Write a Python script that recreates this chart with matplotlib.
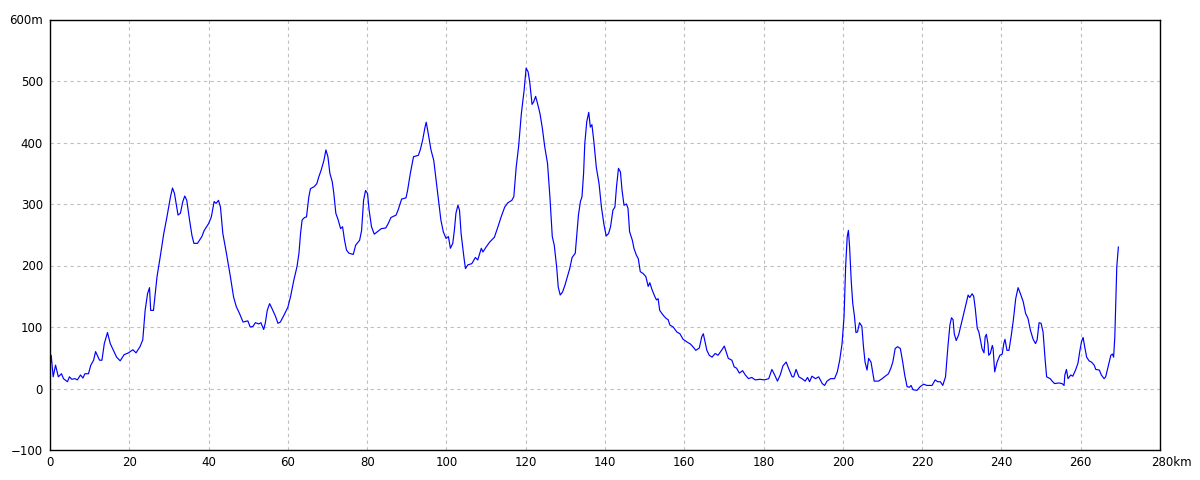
import matplotlib
matplotlib.use("Agg")
import matplotlib.pyplot as plt
import matplotlib.transforms as mtransforms

# distance (km) and elevation (m)
km = [0.0, 0.3, 0.8, 1.4, 2.1, 2.9, 3.4, 4.4, 4.9, 5.5, 6.3, 6.9, 7.7, 8.3, 8.8, 9.7,
      10.3, 11.0, 11.5, 12.5, 13.1, 13.7, 14.5, 15.2, 16.0, 16.8, 17.7, 18.7, 19.8,
      20.9, 21.7, 22.7, 23.4, 24.0, 24.6, 25.1, 25.4, 26.1, 27.0, 27.8, 28.7, 29.5,
      30.4, 30.9, 31.4, 32.3, 32.9, 33.5, 34.0, 34.5, 35.2, 35.8, 36.3, 37.2, 38.3,
      38.9, 40.0, 40.7, 41.4, 41.9, 42.5, 43.0, 43.6, 44.5, 45.5, 46.3, 47.0, 47.8,
      48.7, 49.9, 50.5, 51.2, 51.8, 52.7, 53.2, 53.9, 54.3, 54.8, 55.4, 56.0, 56.9,
      57.5, 58.1, 59.0, 60.0, 60.7, 61.5, 62.3, 62.8, 63.2, 63.6, 64.2, 64.7, 65.3,
      65.7, 66.6, 67.3, 67.8, 68.4, 69.1, 69.6, 70.1, 70.6, 71.2, 71.6, 72.1, 72.7,
      73.3, 73.8, 74.3, 74.8, 75.4, 76.5, 77.1, 78.1, 78.6, 79.1, 79.6, 80.1, 80.5,
      81.1, 81.8, 82.6, 83.6, 84.7, 85.3, 86.0, 87.3, 87.8, 88.7, 89.8, 90.2, 90.9,
      91.7, 92.9, 93.4, 94.0, 94.6, 94.9, 95.4, 96.1, 96.8, 97.4, 98.0, 98.6, 99.2,
      99.9, 100.5, 101.0, 101.6, 102.0, 102.4, 102.9, 103.3, 103.7, 104.4, 104.8,
      105.4, 106.4, 107.3, 107.9, 108.8, 109.2, 110.0, 110.9, 112.1, 113.0, 113.8,
      114.7, 115.5, 116.5, 117.0, 117.6, 118.2, 118.9, 119.6, 120.1, 120.6, 121.0,
      121.6, 122.0, 122.5, 123.0, 123.6, 124.2, 124.8, 125.5, 126.1, 126.7, 127.2,
      127.8, 128.2, 128.7, 129.3, 129.9, 130.6, 131.1, 131.7, 132.5, 132.9, 133.3,
      133.8, 134.2, 134.6, 134.9, 135.4, 135.9, 136.3, 136.7, 137.2, 137.8, 138.5,
      139.1, 139.7, 140.3, 140.9, 141.4, 142.0, 142.5, 142.9, 143.4, 143.9, 144.3,
      144.8, 145.4, 145.8, 146.2, 146.9, 147.3, 147.9, 148.4, 148.9, 149.6, 150.3,
      150.9, 151.3, 151.9, 152.6, 153.0, 153.4, 153.8, 154.7, 155.4, 155.9, 156.4,
      157.2, 158.1, 158.9, 159.7, 160.6, 161.6, 162.3, 162.9, 163.8, 164.4, 164.8,
      165.7, 166.3, 167.0, 167.8, 168.5, 169.4, 170.1, 170.7, 171.1, 172.0, 172.6,
      173.2, 173.9, 174.7, 175.4, 176.2, 177.0, 177.9, 179.1, 180.2, 181.3, 182.1,
      182.8, 183.5, 184.2, 184.9, 185.7, 186.3, 187.2, 187.6, 188.2, 188.9, 189.7,
      190.5, 191.1, 191.6, 192.2, 193.1, 193.9, 194.8, 195.4, 196.0, 196.9, 197.9,
      198.6, 199.2, 199.8, 200.3, 200.7, 201.1, 201.4, 201.7, 202.1, 202.5, 202.9,
      203.3, 203.7, 204.2, 204.8, 205.2, 205.6, 206.1, 206.5, 207.1, 207.5, 207.9,
      209.0, 209.9, 210.7, 211.5, 212.1, 212.6, 213.2, 213.8, 214.5, 215.1, 215.6,
      216.2, 216.8, 217.2, 217.7, 218.7, 219.5, 220.4, 221.2, 222.5, 223.3, 223.9,
      224.6, 225.2, 225.9, 226.5, 227.0, 227.4, 227.8, 228.1, 228.6, 229.2, 229.8,
      230.5, 231.2, 231.6, 232.0, 232.6, 233.0, 233.4, 233.9, 234.3, 234.7, 235.1,
      235.6, 235.9, 236.2, 236.6, 236.8, 237.2, 237.7, 237.9, 238.3, 238.9, 239.6,
      240.2, 240.6, 240.9, 241.4, 241.9, 242.5, 243.0, 243.6, 244.2, 244.8, 245.5,
      246.1, 246.7, 247.3, 248.0, 248.6, 249.0, 249.5, 250.0, 250.5, 251.0, 251.4,
      252.3, 252.8, 253.4, 254.5, 255.3, 255.8, 256.0, 256.4, 256.8, 257.5, 258.0,
      258.7, 259.3, 259.8, 260.2, 260.6, 261.0, 261.5, 262.1, 262.7, 263.4, 263.8,
      264.7, 265.2, 265.9, 266.3, 266.7, 267.2, 267.6, 268.0, 268.3, 268.6, 268.9,
      269.1, 269.5]

elev = [33, 54, 19, 38, 19, 24, 16, 11, 19, 15, 16, 14, 22, 17, 24, 24,
        38, 46, 60, 46, 46, 73, 91, 73, 62, 51, 45, 55, 58,
        63, 58, 68, 79, 127, 154, 164, 127, 127, 182, 214, 252, 279,
        312, 326, 317, 282, 285, 304, 313, 306, 274, 249, 236, 236, 247,
        257, 268, 279, 304, 301, 306, 295, 252, 220, 182, 149, 133, 122,
        108, 110, 100, 101, 107, 105, 107, 96, 106, 127, 138, 130, 117,
        106, 108, 119, 132, 150, 176, 198, 220, 252, 274, 278, 279, 312,
        325, 328, 333, 344, 355, 371, 388, 377, 350, 336, 317, 285, 274,
        260, 263, 241, 225, 220, 218, 233, 241, 257, 306, 322, 317, 290,
        263, 251, 255, 260, 261, 268, 278, 282, 290, 308, 310, 322, 350,
        377, 379, 388, 404, 425, 433, 415, 388, 371, 339, 306, 274, 255,
        244, 247, 228, 236, 257, 285, 298, 290, 252, 214, 195,
        201, 203, 213, 209, 228, 222, 230, 238, 246, 263, 279,
        295, 302, 306, 312, 360, 393, 447, 485, 521, 515, 499,
        462, 466, 475, 463, 447, 423, 393, 366, 312, 247, 233,
        198, 165, 152, 157, 168, 184, 195, 213, 220, 252, 282,
        304, 312, 350, 398, 434, 449, 425, 429, 401, 360, 333,
        295, 268, 248, 252, 263, 290, 295, 328, 358, 352, 322,
        298, 300, 293, 255, 241, 228, 217, 211, 190, 187, 182,
        166, 172, 160, 149, 144, 146, 127, 119, 114, 112, 103,
        100, 92, 89, 80, 76, 72, 67, 62, 66, 84, 89,
        62, 54, 51, 57, 54, 62, 69, 57, 49, 46, 35,
        33, 25, 29, 22, 16, 18, 14, 15, 14, 16, 31,
        22, 12, 22, 37, 43, 33, 19, 19, 31, 19, 16,
        12, 18, 11, 20, 16, 19, 8, 5, 12, 16, 16,
        27, 46, 73, 117, 198, 247, 257, 230, 176, 138, 119,
        91, 92, 107, 101, 68, 43, 30, 49, 43, 27, 12,
        12, 16, 20, 24, 33, 43, 65, 68, 65, 43, 22,
        3, 2, 5, -2, -3, 3, 7, 5, 5, 14, 11,
        11, 5, 19, 68, 103, 115, 112, 89, 78, 87, 103,
        122, 141, 152, 148, 154, 150, 130, 98, 92, 79, 65,
        58, 84, 88, 73, 54, 57, 70, 65, 27, 43, 54,
        56, 73, 80, 62, 62, 87, 111, 146, 164, 154, 141,
        122, 114, 95, 80, 73, 79, 107, 106, 92, 49, 19,
        16, 12, 8, 9, 8, 5, 22, 31, 16, 22, 20,
        30, 41, 62, 76, 83, 68, 51, 45, 43, 38, 31,
        30, 22, 16, 19, 30, 43, 54, 56, 51, 84, 152,
        198, 230]

x_ticks = [0, 20, 40, 60, 80, 100, 120, 140, 160, 180, 200, 220, 240, 260, 280]
x_labels = ["0", "20", "40", "60", "80", "100", "120", "140", "160", "180",
            "200", "220", "240", "260", "280km"]
y_ticks = [-100, 0, 100, 200, 300, 400, 500, 600]
y_labels = ["\u2212100", "0", "100", "200", "300", "400", "500", "600m"]

fig = plt.figure(figsize=(12, 4.8), dpi=100)
ax = fig.add_axes([50 / 1200, 1 - 450 / 480, 1110 / 1200, 430.5 / 480])
ax.plot(km, elev, color="#0000ff", linewidth=0.85)

ax.set_xlim(0, 280)
ax.set_ylim(-100, 600)
ax.set_xticks(x_ticks)
ax.set_xticklabels(x_labels)
ax.set_yticks(y_ticks)
ax.set_yticklabels(y_labels)
ax.tick_params(length=0, labelsize=8.5, colors="black")
ax.tick_params(axis="y", pad=5)
ax.tick_params(axis="x", pad=4)
ax.grid(True, color="#c0c0c0", linestyle=(0, (3, 3)), linewidth=0.8)
for s in ax.spines.values():
    s.set_color("black")
    s.set_linewidth(1.0)

# last x label: keep the number centred on its tick, unit to the right
last = ax.get_xticklabels()[-1]
last.set_horizontalalignment("left")
last.set_transform(last.get_transform() + mtransforms.ScaledTranslation(-9 / 100, 0, fig.dpi_scale_trans))

fig.savefig("out.png", dpi=100)
